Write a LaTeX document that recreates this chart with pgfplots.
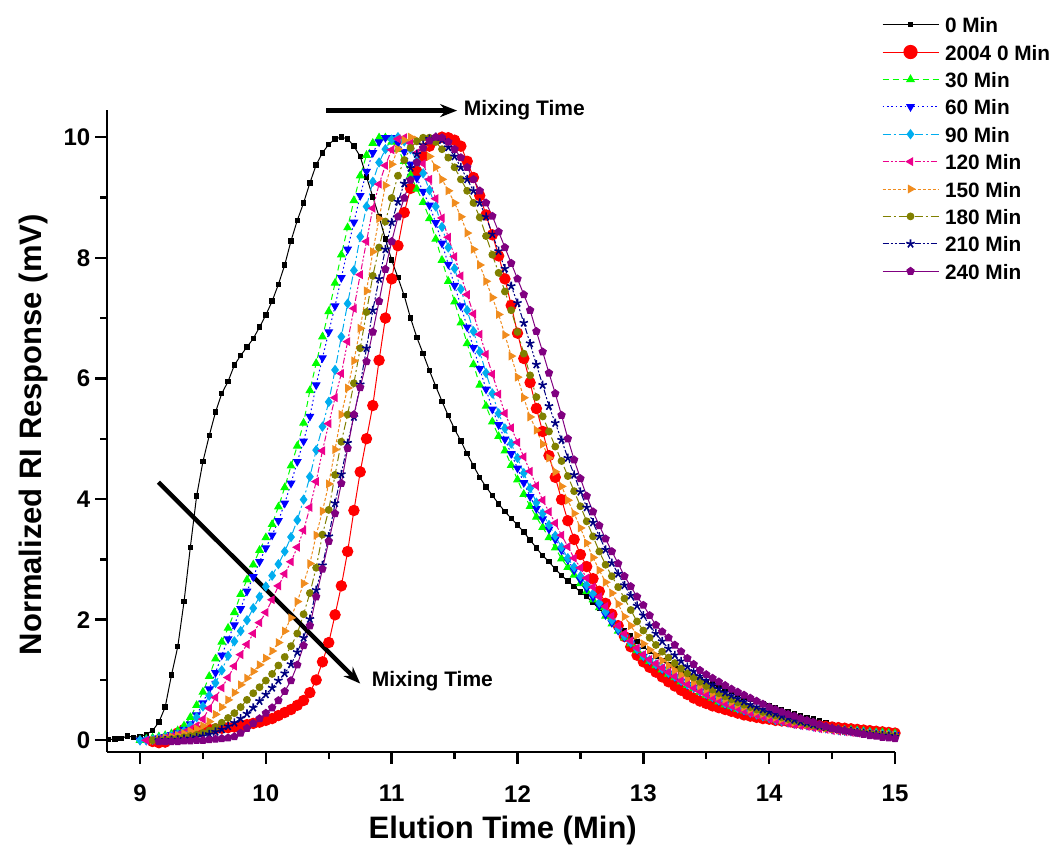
\documentclass[border=0pt]{standalone}
\usepackage{fontspec}
\setmainfont{Liberation Sans}
\usepackage{pgfplots}
\usepackage{pgfplotstable}
\pgfplotsset{compat=1.18}
\usetikzlibrary{arrows.meta}
\definecolor{cOrange}{RGB}{240,140,30}
\definecolor{cOlive}{RGB}{128,128,0}
\definecolor{cNavy}{RGB}{0,0,128}
\definecolor{cPurple}{RGB}{128,0,128}

\pgfplotstableread{
t k r g b c m o l n p
8.75 0.01 nan nan nan nan nan nan nan nan nan
8.80 0.02 nan nan nan nan nan nan nan nan nan
8.85 0.03 nan nan nan nan nan nan nan nan nan
8.90 0.07 nan nan nan nan nan nan nan nan nan
8.95 0.05 nan nan nan nan nan nan nan nan nan
9.00 0.06 nan 0.00 0.00 0.00 nan nan nan nan nan
9.05 0.10 nan 0.02 0.00 0.00 0.00 nan nan nan nan
9.10 0.16 -0.02 0.04 0.02 0.01 0.00 0.00 0.00 nan nan
9.15 0.30 -0.04 0.06 0.04 0.03 0.02 0.02 0.00 0.00 -0.02
9.20 0.55 -0.03 0.08 0.06 0.05 0.04 0.04 0.01 0.00 -0.02
9.25 1.08 0.02 0.11 0.09 0.07 0.06 0.06 0.02 0.00 -0.02
9.30 1.55 0.12 0.16 0.12 0.10 0.09 0.08 0.03 0.01 -0.02
9.35 2.30 0.18 0.24 0.18 0.15 0.13 0.11 0.05 0.02 -0.01
9.40 3.20 0.17 0.38 0.27 0.24 0.18 0.15 0.07 0.03 -0.01
9.45 4.05 0.16 0.58 0.42 0.38 0.24 0.19 0.09 0.05 0.00
9.50 4.62 0.17 0.80 0.62 0.56 0.35 0.24 0.12 0.07 0.00
9.55 5.05 0.18 1.06 0.85 0.74 0.53 0.31 0.16 0.10 0.01
9.60 5.44 0.19 1.35 1.12 0.95 0.71 0.43 0.22 0.14 0.02
9.65 5.75 0.20 1.63 1.41 1.16 0.87 0.55 0.29 0.18 0.03
9.70 5.95 0.21 1.86 1.68 1.40 1.04 0.67 0.37 0.23 0.04
9.75 6.22 0.22 2.12 1.91 1.64 1.23 0.79 0.45 0.29 0.06
9.80 6.38 0.24 2.42 2.18 1.81 1.42 0.92 0.55 0.36 0.12
9.85 6.52 0.26 2.66 2.47 1.99 1.59 1.03 0.67 0.44 0.20
9.90 6.66 0.28 2.91 2.71 2.19 1.77 1.14 0.78 0.54 0.28
9.95 6.85 0.30 3.15 2.96 2.38 1.95 1.25 0.88 0.65 0.36
10.00 7.05 0.33 3.36 3.19 2.55 2.12 1.36 0.99 0.76 0.45
10.05 7.28 0.36 3.58 3.40 2.73 2.33 1.48 1.10 0.87 0.54
10.10 7.56 0.41 3.87 3.64 2.92 2.56 1.62 1.24 0.99 0.66
10.15 7.88 0.46 4.19 3.93 3.13 2.76 1.81 1.38 1.11 0.81
10.20 8.28 0.51 4.55 4.26 3.37 2.96 2.03 1.56 1.26 0.99
10.25 8.62 0.58 4.88 4.62 3.65 3.20 2.30 1.77 1.46 1.25
10.30 8.91 0.66 5.26 4.96 3.99 3.48 2.60 2.09 1.70 1.57
10.35 9.24 0.79 5.80 5.37 4.37 3.86 2.93 2.44 2.01 1.90
10.40 9.54 1.00 6.25 5.89 4.81 4.29 3.40 2.86 2.49 2.38
10.45 9.74 1.30 6.69 6.34 5.20 4.80 3.80 3.41 2.90 2.84
10.50 9.88 1.62 7.11 6.77 5.61 5.25 4.25 3.82 3.38 3.30
10.55 9.97 2.08 7.58 7.20 6.14 5.68 4.82 4.40 3.93 3.76
10.60 10.00 2.56 8.05 7.67 6.69 6.08 5.40 4.95 4.41 4.26
10.65 9.97 3.13 8.50 8.14 7.24 6.61 5.84 5.40 4.93 4.84
10.70 9.85 3.81 8.95 8.59 7.79 7.16 6.29 5.92 5.36 5.40
10.75 9.68 4.45 9.36 9.03 8.35 7.72 6.83 6.50 5.90 5.85
10.80 9.34 5.00 9.70 9.43 8.85 8.27 7.45 7.10 6.50 6.28
10.85 9.01 5.55 9.90 9.74 9.26 8.82 8.10 7.70 7.13 6.77
10.90 8.68 6.30 9.99 9.92 9.58 9.22 8.65 8.17 7.65 7.28
10.95 8.31 7.00 9.99 9.99 9.80 9.53 9.20 8.60 8.14 7.81
11.00 7.96 7.65 9.92 9.99 9.96 9.79 9.55 8.99 8.59 8.27
11.05 7.67 8.20 9.80 9.90 10.00 9.97 9.80 9.36 8.93 8.68
11.10 7.37 8.75 9.60 9.76 9.93 9.99 9.95 9.62 9.23 8.99
11.15 7.00 9.15 9.37 9.55 9.80 9.90 10.00 9.82 9.49 9.29
11.20 6.68 9.43 9.14 9.32 9.60 9.74 9.95 9.93 9.72 9.58
11.25 6.41 9.68 8.92 9.10 9.40 9.56 9.84 9.99 9.87 9.82
11.30 6.13 9.85 8.65 8.87 9.12 9.30 9.68 9.99 9.97 9.94
11.35 5.87 9.96 8.31 8.58 8.85 8.98 9.50 9.92 10.00 10.00
11.40 5.62 10.00 7.96 8.24 8.51 8.66 9.30 9.80 9.95 9.99
11.45 5.38 9.99 7.61 7.89 8.17 8.34 9.11 9.66 9.83 9.92
11.50 5.16 9.95 7.27 7.54 7.82 8.02 8.91 9.50 9.68 9.80
11.55 4.96 9.85 6.92 7.20 7.48 7.70 8.68 9.30 9.50 9.66
11.60 4.75 9.60 6.58 6.85 7.13 7.39 8.41 9.11 9.30 9.50
11.65 4.55 9.33 6.23 6.51 6.78 7.07 8.14 8.91 9.11 9.30
11.70 4.36 9.03 5.89 6.16 6.44 6.73 7.88 8.67 8.91 9.11
11.75 4.20 8.71 5.54 5.82 6.09 6.40 7.61 8.36 8.68 8.91
11.80 4.06 8.38 5.28 5.49 5.75 6.07 7.34 8.05 8.39 8.69
11.85 3.92 8.03 5.04 5.23 5.42 5.74 7.06 7.75 8.11 8.43
11.90 3.79 7.65 4.80 4.99 5.17 5.42 6.72 7.44 7.82 8.17
11.95 3.68 7.21 4.56 4.75 4.92 5.18 6.37 7.13 7.53 7.91
12.00 3.57 6.75 4.32 4.51 4.68 4.94 6.02 6.77 7.25 7.65
12.05 3.45 6.33 4.08 4.27 4.43 4.70 5.68 6.41 6.92 7.39
12.10 3.32 5.93 3.88 4.04 4.18 4.46 5.36 6.05 6.58 7.13
12.15 3.19 5.50 3.70 3.84 3.94 4.22 5.14 5.69 6.23 6.78
12.20 3.06 5.12 3.53 3.67 3.76 3.98 4.91 5.37 5.89 6.44
12.25 2.96 4.72 3.36 3.50 3.57 3.79 4.68 5.12 5.54 6.09
12.30 2.84 4.36 3.19 3.33 3.39 3.60 4.45 4.87 5.26 5.75
12.35 2.73 3.99 3.01 3.15 3.20 3.40 4.21 4.63 4.98 5.39
12.40 2.64 3.64 2.87 2.99 3.02 3.21 3.98 4.38 4.68 5.00
12.45 2.55 3.33 2.74 2.82 2.87 3.02 3.76 4.13 4.40 4.65
12.50 2.46 3.08 2.60 2.66 2.72 2.86 3.52 3.88 4.12 4.34
12.55 2.38 2.88 2.47 2.52 2.57 2.69 3.27 3.63 3.86 4.05
12.60 2.28 2.68 2.33 2.37 2.43 2.54 3.03 3.38 3.61 3.79
12.65 2.18 2.47 2.20 2.23 2.28 2.38 2.82 3.13 3.38 3.56
12.70 2.08 2.27 2.06 2.08 2.13 2.22 2.62 2.91 3.16 3.34
12.75 2.00 2.09 1.93 1.95 1.99 2.06 2.44 2.72 2.94 3.13
12.80 1.91 1.90 1.81 1.82 1.85 1.90 2.26 2.54 2.76 2.93
12.85 1.82 1.72 1.70 1.71 1.73 1.77 2.05 2.35 2.57 2.72
12.90 1.73 1.55 1.60 1.61 1.62 1.65 1.90 2.16 2.40 2.55
12.95 1.64 1.41 1.49 1.50 1.51 1.53 1.74 1.97 2.23 2.38
13.00 1.55 1.30 1.38 1.39 1.40 1.42 1.60 1.82 2.07 2.24
13.05 1.47 1.21 1.31 1.32 1.33 1.34 1.50 1.70 1.90 2.07
13.10 1.40 1.13 1.24 1.25 1.26 1.27 1.41 1.58 1.77 1.91
13.15 1.32 1.05 1.17 1.18 1.19 1.20 1.32 1.47 1.64 1.80
13.20 1.25 0.97 1.10 1.11 1.12 1.13 1.24 1.37 1.52 1.70
13.25 1.18 0.90 1.04 1.05 1.06 1.06 1.16 1.28 1.41 1.58
13.30 1.13 0.83 0.97 0.98 0.99 0.99 1.09 1.19 1.31 1.47
13.35 1.09 0.76 0.91 0.92 0.93 0.93 1.02 1.11 1.22 1.36
13.40 1.05 0.70 0.86 0.87 0.88 0.87 0.96 1.04 1.14 1.26
13.45 1.01 0.65 0.80 0.81 0.82 0.81 0.90 0.97 1.06 1.16
13.50 0.97 0.61 0.75 0.76 0.77 0.76 0.84 0.90 0.99 1.09
13.55 0.93 0.57 0.70 0.71 0.72 0.71 0.78 0.84 0.92 1.03
13.60 0.89 0.54 0.64 0.65 0.66 0.66 0.73 0.78 0.85 0.97
13.65 0.85 0.51 0.59 0.60 0.61 0.61 0.68 0.73 0.79 0.91
13.70 0.81 0.48 0.56 0.56 0.57 0.57 0.63 0.68 0.74 0.85
13.75 0.76 0.45 0.52 0.53 0.53 0.53 0.59 0.63 0.69 0.80
13.80 0.72 0.42 0.49 0.49 0.50 0.49 0.55 0.59 0.64 0.75
13.85 0.68 0.40 0.46 0.46 0.46 0.45 0.51 0.55 0.59 0.70
13.90 0.65 0.38 0.43 0.43 0.43 0.42 0.47 0.51 0.55 0.65
13.95 0.61 0.36 0.40 0.40 0.40 0.39 0.44 0.47 0.51 0.60
14.00 0.57 0.35 0.37 0.37 0.37 0.36 0.41 0.44 0.47 0.55
14.05 0.54 0.33 0.34 0.34 0.34 0.33 0.38 0.41 0.44 0.51
14.10 0.50 0.32 0.32 0.32 0.32 0.31 0.35 0.38 0.40 0.47
14.15 0.47 0.31 0.30 0.30 0.30 0.28 0.33 0.35 0.37 0.43
14.20 0.44 0.29 0.29 0.28 0.28 0.26 0.30 0.32 0.34 0.40
14.25 0.41 0.28 0.27 0.27 0.26 0.24 0.28 0.30 0.31 0.36
14.30 0.38 0.27 0.26 0.25 0.25 0.23 0.26 0.27 0.29 0.33
14.35 0.35 0.25 0.24 0.23 0.23 0.21 0.24 0.25 0.26 0.30
14.40 0.32 0.24 0.22 0.22 0.21 0.19 0.22 0.23 0.24 0.26
14.45 0.29 0.23 0.21 0.20 0.20 0.18 0.20 0.21 0.22 0.23
14.50 0.26 0.22 0.19 0.19 0.18 0.16 0.19 0.19 0.20 0.20
14.55 0.24 0.21 0.18 0.17 0.17 0.15 0.17 0.18 0.18 0.18
14.60 0.22 0.20 0.17 0.16 0.16 0.14 0.16 0.16 0.16 0.16
14.65 0.20 0.19 0.17 0.15 0.15 0.13 0.15 0.15 0.15 0.14
14.70 0.18 0.18 0.16 0.14 0.14 0.12 0.14 0.13 0.13 0.12
14.75 0.16 0.17 0.15 0.13 0.13 0.11 0.12 0.12 0.12 0.10
14.80 0.14 0.16 0.14 0.12 0.12 0.10 0.11 0.11 0.10 0.08
14.85 0.12 0.15 0.13 0.11 0.11 0.09 0.10 0.10 0.09 0.07
14.90 0.11 0.14 0.13 0.10 0.10 0.08 0.10 0.09 0.08 0.05
14.95 0.10 0.13 0.12 0.10 0.09 0.07 0.09 0.08 0.07 0.04
15.00 0.09 0.12 0.11 0.09 0.08 0.07 0.08 0.07 0.06 0.03
}\datatable

\begin{document}
\begin{tikzpicture}
\path[use as bounding box] (-53.65pt,-50.15pt) rectangle (473.9pt,375.9pt);
\begin{axis}[
  at={(0pt,0pt)}, anchor=south west,
  scale only axis, width=393.9pt, height=320.9pt,
  xmin=8.74, xmax=15, ymin=-0.19, ymax=10.45,
  axis x line*=bottom, axis y line*=left,
  axis line style={line width=1.2pt},
  xtick={9,10,...,15}, minor xtick={9.5,10.5,...,14.5},
  ytick={0,2,...,10}, minor ytick={1,3,...,9},
  tick align=outside,
  major tick length=6pt, minor tick length=3.5pt,
  every tick/.style={line width=1.2pt, black},
  every minor tick/.style={line width=1.2pt, black},
  /pgf/number format/assume math mode=true,
  ticklabel style={font=\fontsize{12}{12}\selectfont\bfseries},
  xticklabel style={anchor=center, yshift=-15pt},
  yticklabel style={anchor=east, xshift=1pt},
  xlabel={Elution Time (Min)},
  ylabel={Normalized RI Response (mV)},
  label style={font=\fontsize{15.5}{16}\selectfont\bfseries},
  xlabel style={at={(axis description cs:0.502,-0.122)}, anchor=center},
  ylabel style={at={(axis description cs:-0.094,0.494)}, anchor=center},
  clip=false,
  legend cell align=left,
  legend style={draw=none, fill=none, inner sep=0pt, outer sep=0pt,
    at={(axis description cs:0.9835,1.1455)}, anchor=north west,
    font=\fontsize{10.4}{11}\selectfont\bfseries,
    nodes={inner sep=0pt, text height=8pt, text depth=0pt},
    row sep=5.7pt,
    /tikz/every odd column/.append style={column sep=3pt}},
  legend image code/.code={\draw[mark repeat=2,mark phase=2] plot coordinates {(0pt,0pt) (14pt,0pt) (28pt,0pt)};},
]
\addplot[black, line width=0.5pt, mark=square*, mark size=1.1pt] table[x=t,y=k]{\datatable};
\addlegendentry{0 Min}
\addplot[red, line width=0.5pt, mark=*, mark size=2.6pt, legend image post style={mark size=3.3pt}] table[x=t,y=r]{\datatable};
\addlegendentry{2004 0 Min}
\addplot[green, line width=0.5pt, dash pattern=on 3pt off 2pt, mark=triangle*, mark size=2.1pt, mark options={solid}] table[x=t,y=g]{\datatable};
\addlegendentry{30 Min}
\addplot[blue, line width=0.5pt, dash pattern=on 0.8pt off 1.4pt, mark=triangle*, mark size=2.1pt, mark options={solid, rotate=180}] table[x=t,y=b]{\datatable};
\addlegendentry{60 Min}
\addplot[cyan, line width=0.5pt, dash pattern=on 4pt off 1.5pt on 1pt off 1.5pt, mark=diamond*, mark size=2.2pt, mark options={solid}] table[x=t,y=c]{\datatable};
\addlegendentry{90 Min}
\addplot[magenta, line width=0.5pt, dash pattern=on 3pt off 1pt on 1pt off 1pt on 1pt off 1pt, mark=triangle*, mark size=2.1pt, mark options={solid, rotate=90}] table[x=t,y=m]{\datatable};
\addlegendentry{120 Min}
\addplot[cOrange, line width=0.5pt, dash pattern=on 1.5pt off 1pt, mark=triangle*, mark size=2.1pt, mark options={solid, rotate=-90}] table[x=t,y=o]{\datatable};
\addlegendentry{150 Min}
\addplot[cOlive, line width=0.5pt, dash pattern=on 4pt off 1.5pt on 1pt off 1.5pt, mark=*, mark size=1.7pt, mark options={solid}] table[x=t,y=l]{\datatable};
\addlegendentry{180 Min}
\addplot[cNavy, line width=0.5pt, dash pattern=on 3pt off 1pt on 1pt off 1pt on 1pt off 1pt, mark=star, mark size=2.2pt, mark options={solid, line width=0.8pt}] table[x=t,y=n]{\datatable};
\addlegendentry{210 Min}
\addplot[cPurple, line width=0.5pt, solid, mark=pentagon*, mark size=1.9pt] table[x=t,y=p]{\datatable};
\addlegendentry{240 Min}

\draw[line width=2.2pt, -{Stealth[length=8.5pt, width=6.5pt]}] (axis cs:10.48,10.44) -- (axis cs:11.52,10.44);
\node[anchor=west, inner sep=0pt, font=\fontsize{10.5}{12}\selectfont\bfseries] at (axis cs:11.57,10.44) {Mixing Time};
\draw[line width=2.2pt, -{Stealth[length=8.5pt, width=6.5pt]}] (axis cs:9.146,4.28) -- (axis cs:10.75,0.94);
\node[anchor=west, inner sep=0pt, font=\fontsize{10.5}{12}\selectfont\bfseries] at (axis cs:10.84,0.98) {Mixing Time};
\end{axis}
\end{tikzpicture}
\end{document}
